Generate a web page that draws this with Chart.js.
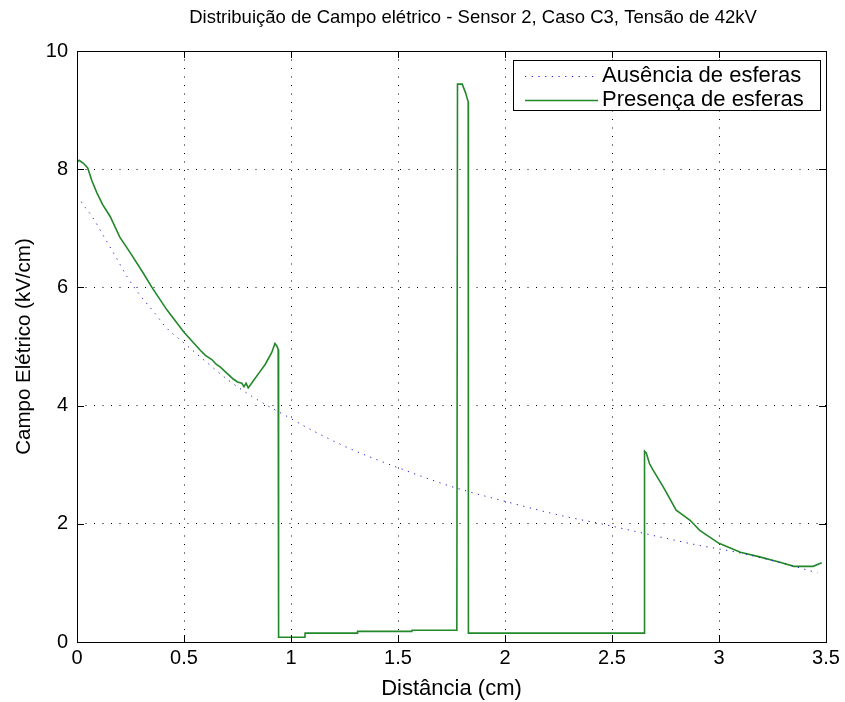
<!DOCTYPE html>
<html>
<head>
<meta charset="utf-8">
<script src="https://cdn.jsdelivr.net/npm/chart.js@4/dist/chart.umd.min.js"></script>
<style>
  html, body { margin: 0; padding: 0; background: #fff; }
  #wrap { width: 845px; height: 702px; }
</style>
</head>
<body>
<div id="wrap"><canvas id="campoChart" width="845" height="702"></canvas></div>
<script>
// Ausência de esferas (dotted blue)
const distAusencia = [0.02, 0.037, 0.07, 0.14, 0.187, 0.234, 0.29, 0.36, 0.42, 0.5, 0.6, 0.7, 0.82, 0.985, 1.1, 1.27, 1.5, 1.75, 2.0, 2.25, 2.5, 2.72, 2.9, 3.08, 3.3, 3.46];
const campoAusencia = [7.45, 7.36, 7.2, 6.77, 6.48, 6.18, 5.89, 5.58, 5.31, 5.06, 4.75, 4.45, 4.15, 3.81, 3.58, 3.28, 2.95, 2.63, 2.38, 2.15, 1.96, 1.78, 1.64, 1.52, 1.33, 1.17];

// Presença de esferas (solid green)
const distPresenca = [0, 0.01, 0.03, 0.05, 0.07, 0.093, 0.12, 0.155, 0.2, 0.25, 0.31, 0.35, 0.42, 0.5, 0.575, 0.6, 0.63, 0.65, 0.67, 0.7, 0.73, 0.75, 0.77, 0.78, 0.79, 0.8, 0.81, 0.82, 0.85, 0.88, 0.91, 0.925, 0.935, 0.94, 0.942, 1.065, 1.066, 1.31, 1.311, 1.565, 1.566, 1.775, 1.778, 1.80, 1.815, 1.828, 1.829, 2.65, 2.652, 2.66, 2.675, 2.69, 2.74, 2.80, 2.865, 2.91, 3.0, 3.1, 3.19, 3.285, 3.35, 3.44, 3.48];
const campoPresenca = [8.12, 8.15, 8.1, 8.02, 7.8, 7.6, 7.4, 7.2, 6.85, 6.58, 6.24, 6.0, 5.62, 5.24, 4.94, 4.85, 4.78, 4.7, 4.65, 4.55, 4.45, 4.4, 4.38, 4.32, 4.38, 4.3, 4.35, 4.4, 4.55, 4.7, 4.9, 5.05, 5.0, 4.95, 0.08, 0.08, 0.15, 0.15, 0.18, 0.18, 0.2, 0.2, 9.44, 9.44, 9.3, 9.14, 0.15, 0.15, 3.23, 3.2, 3.02, 2.92, 2.62, 2.23, 2.06, 1.89, 1.67, 1.52, 1.44, 1.35, 1.28, 1.28, 1.34];

const xTicks = [0, 0.5, 1, 1.5, 2, 2.5, 3, 3.5];
const yTicks = [0, 2, 4, 6, 8, 10];

const chartTitle = 'Distribuição de Campo elétrico - Sensor 2, Caso C3, Tensão de 42kV';
const xLabel = 'Distância (cm)';
const yLabel = 'Campo Elétrico (kV/cm)';
const seriesNames = ['Ausência de esferas', 'Presença de esferas'];

const FONT = '"Liberation Sans", Arial, sans-serif';
const BLUE = '#1a1acc';
const GREEN = '#22882a';

const toPoints = (xs, ys) => xs.map((x, i) => ({ x: x, y: ys[i] }));

// box, inward ticks, title and legend like the matlab figure
const framePlugin = {
  id: 'frame',
  afterDraw(chart) {
    const ctx = chart.ctx;
    const a = chart.chartArea;
    const xs = chart.scales.x, ys = chart.scales.y;
    ctx.save();
    ctx.strokeStyle = '#000';
    ctx.lineWidth = 1;
    ctx.setLineDash([]);
    ctx.strokeRect(Math.round(a.left) + 0.5, Math.round(a.top) + 0.5, Math.round(a.right - a.left), Math.round(a.bottom - a.top));

    ctx.beginPath();
    xTicks.forEach(v => {
      const px = Math.round(xs.getPixelForValue(v)) + 0.5;
      ctx.moveTo(px, a.bottom); ctx.lineTo(px, a.bottom - 7);
      ctx.moveTo(px, a.top); ctx.lineTo(px, a.top + 7);
    });
    yTicks.forEach(v => {
      const py = Math.round(ys.getPixelForValue(v)) + 0.5;
      ctx.moveTo(a.left, py); ctx.lineTo(a.left + 7, py);
      ctx.moveTo(a.right, py); ctx.lineTo(a.right - 7, py);
    });
    ctx.stroke();

    // title
    ctx.fillStyle = '#000';
    ctx.font = '18.5px ' + FONT;
    ctx.textAlign = 'center';
    ctx.textBaseline = 'middle';
    ctx.fillText(chartTitle, 473, 18);

    // legend
    const lx = 513, ly = 60, lw = 307, lh = 50;
    ctx.fillStyle = '#fff';
    ctx.fillRect(lx, ly, lw, lh);
    ctx.strokeRect(lx + 0.5, ly + 0.5, lw, lh);
    const ds = chart.data.datasets;
    [76, 100].forEach((y, i) => {
      ctx.beginPath();
      ctx.strokeStyle = ds[i].borderColor;
      ctx.lineWidth = ds[i].borderWidth;
      ctx.setLineDash(ds[i].borderDash || []);
      ctx.moveTo(525, y + 0.5); ctx.lineTo(598, y + 0.5);
      ctx.stroke();
      ctx.fillStyle = '#000';
      ctx.font = '22px ' + FONT;
      ctx.textAlign = 'left';
      ctx.textBaseline = 'middle';
      ctx.fillText(seriesNames[i], 602, y);
    });
    ctx.restore();
  }
};

new Chart(document.getElementById('campoChart'), {
  type: 'line',
  data: {
    datasets: [
      {
        label: seriesNames[0],
        data: toPoints(distAusencia, campoAusencia),
        borderColor: BLUE,
        borderWidth: 1,
        borderDash: [1.2, 5.5],
        pointRadius: 0,
        cubicInterpolationMode: 'monotone',
        fill: false
      },
      {
        label: seriesNames[1],
        data: toPoints(distPresenca, campoPresenca),
        borderColor: GREEN,
        borderWidth: 1.6,
        pointRadius: 0,
        tension: 0,
        fill: false
      }
    ]
  },
  options: {
    responsive: false,
    animation: false,
    devicePixelRatio: 1,
    layout: { padding: { top: 51, right: 19, left: 0, bottom: 0 } },
    plugins: {
      legend: { display: false },
      tooltip: { enabled: false },
      title: { display: false }
    },
    scales: {
      x: {
        type: 'linear',
        min: 0,
        max: 3.5,
        afterBuildTicks: s => { s.ticks = xTicks.map(v => ({ value: v })); },
        afterFit: s => { s.height = 60; },
        ticks: {
          color: '#000',
          font: { family: FONT, size: 20 },
          padding: 4,
          maxRotation: 0,
          callback: v => String(v)
        },
        grid: { color: '#000', lineWidth: 1, drawTicks: false, tickLength: 0 },
        border: { display: false, dash: [1, 7.5] },
        title: {
          display: true,
          text: xLabel,
          color: '#000',
          font: { family: FONT, size: 22 },
          padding: { top: 0, bottom: 0 }
        }
      },
      y: {
        type: 'linear',
        min: 0,
        max: 10,
        afterBuildTicks: s => { s.ticks = yTicks.map(v => ({ value: v })); },
        afterFit: s => { s.width = 77; },
        ticks: {
          color: '#000',
          font: { family: FONT, size: 20 },
          padding: 9,
          callback: v => String(v)
        },
        grid: { color: '#000', lineWidth: 1, drawTicks: false, tickLength: 0 },
        border: { display: false, dash: [1, 7.5] },
        title: {
          display: true,
          text: yLabel,
          color: '#000',
          font: { family: FONT, size: 20.5 },
          padding: { top: 12, bottom: 0 }
        }
      }
    }
  },
  plugins: [framePlugin]
});
</script>
</body>
</html>
